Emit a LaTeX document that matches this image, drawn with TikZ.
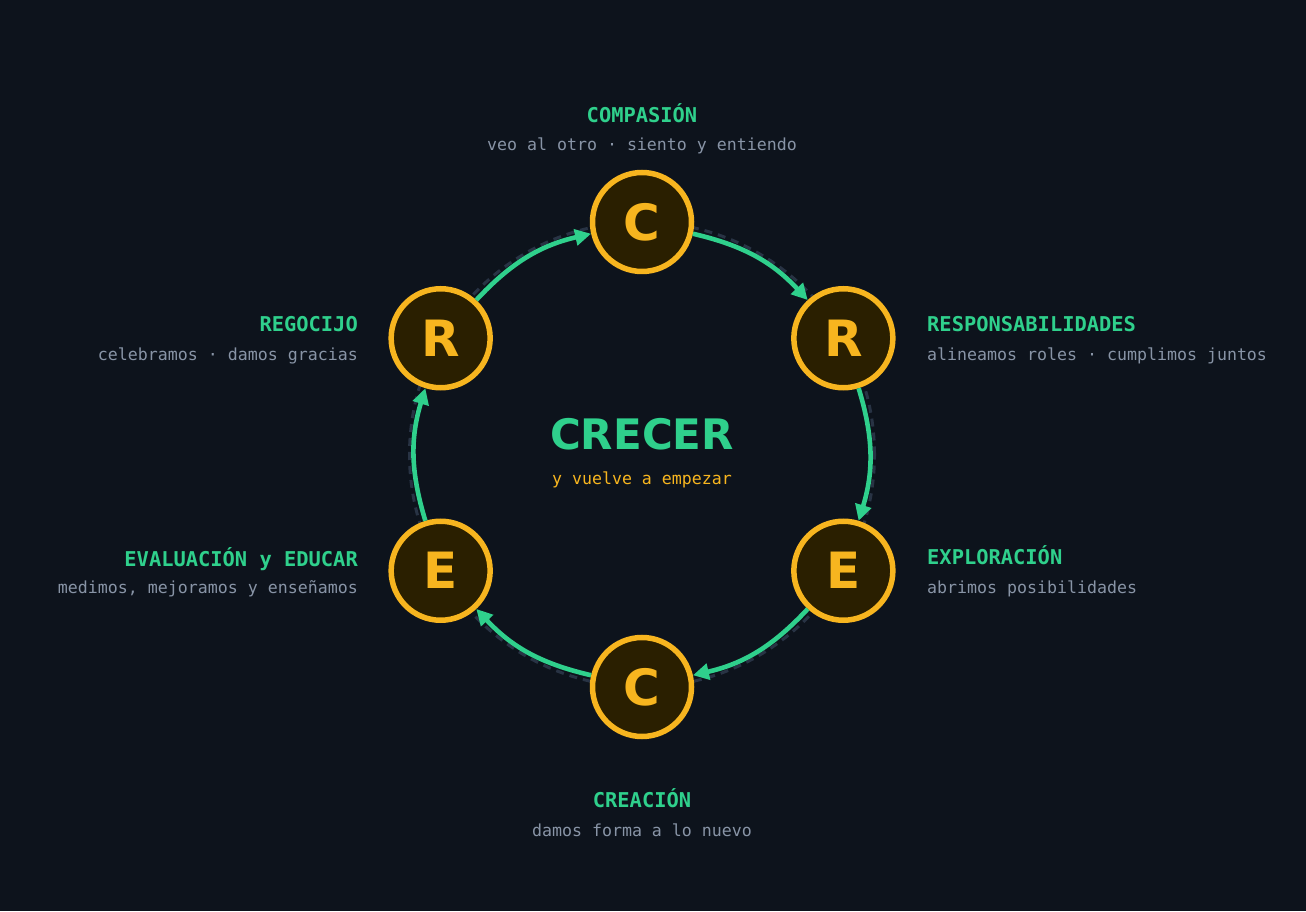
\documentclass[tikz,border=0pt]{standalone}
\usepackage{fontspec}
\setmonofont{DejaVu Sans Mono}
\newfontfamily\dvsans{DejaVu Sans}
\usetikzlibrary{arrows.meta,calc}
\definecolor{bg}{HTML}{0D131C}
\definecolor{grn}{HTML}{2FD08C}
\definecolor{amb}{HTML}{F7B51F}
\definecolor{nodefill}{HTML}{2A1F00}
\definecolor{sub}{HTML}{8894A6}
\definecolor{ring}{HTML}{283344}
\tikzset{
  stage/.style={circle, draw=amb, fill=nodefill, line width=5.5pt, minimum size=99pt, inner sep=0pt,
    text=amb, font=\dvsans\bfseries\fontsize{50}{54}\selectfont},
  ttl/.style={inner sep=0pt, text=grn, font=\ttfamily\bfseries\fontsize{20.4}{24}\selectfont},
  subt/.style={inner sep=0pt, text=sub, font=\ttfamily\fontsize{16.6}{20}\selectfont},
  flow/.style={draw=grn, line width=4.6pt, -{Triangle[length=16pt,width=16pt]}, bend left=17},
}
\begin{document}
\begin{tikzpicture}[x=1pt,y=1pt]
\fill[bg] (0,0) rectangle (1306,911);
\useasboundingbox (0,0) rectangle (1306,911);
\coordinate (ctr) at (642,456.5);
\draw[ring, line width=3pt, dash pattern=on 8pt off 6pt] (ctr) circle[radius=232.5];
% nodes
\node[stage] (c1) at ($(ctr)+(90:232.5)$) {C};
\node[stage] (r1) at ($(ctr)+(30:232.5)$) {R};
\node[stage] (e1) at ($(ctr)+(-30:232.5)$) {E};
\node[stage] (c2) at ($(ctr)+(-90:232.5)$) {C};
\node[stage] (e2) at ($(ctr)+(-150:232.5)$) {E};
\node[stage] (r2) at ($(ctr)+(150:232.5)$) {R};
% connectors
\draw[flow] (c1) to (r1);
\draw[flow] (r1) to (e1);
\draw[flow] (e1) to (c2);
\draw[flow] (c2) to (e2);
\draw[flow] (e2) to (r2);
\draw[flow] (r2) to (c1);
% centre
\node[inner sep=0pt, anchor=base, text=grn, font=\dvsans\bfseries\fontsize{42}{46}\selectfont] (title) at (642,461) {CRECER};
\node[inner sep=0pt, anchor=base, text=amb, font=\ttfamily\fontsize{16.6}{20}\selectfont] (tag) at (642,426) {y vuelve a empezar};
% labels
\node[ttl, anchor=base] (l1) at (642,788) {COMPASIÓN};
\node[subt, anchor=base] (s1) at (642,760) {veo al otro · siento y entiendo};
\node[ttl, anchor=base west] (l2) at (927,579) {RESPONSABILIDADES};
\node[subt, anchor=base west] (s2) at (927,550) {alineamos roles · cumplimos juntos};
\node[ttl, anchor=base west] (l3) at (927,346) {EXPLORACIÓN};
\node[subt, anchor=base west] (s3) at (927,317) {abrimos posibilidades};
\node[ttl, anchor=base] (l4) at (642,104) {CREACIÓN};
\node[subt, anchor=base] (s4) at (642,75) {damos forma a lo nuevo};
\node[ttl, anchor=base east] (l5) at (358,344) {EVALUACIÓN y EDUCAR};
\node[subt, anchor=base east] (s5) at (358,317) {medimos, mejoramos y enseñamos};
\node[ttl, anchor=base east] (l6) at (358,579) {REGOCIJO};
\node[subt, anchor=base east] (s6) at (358,550) {celebramos · damos gracias};
\end{tikzpicture}
\end{document}
